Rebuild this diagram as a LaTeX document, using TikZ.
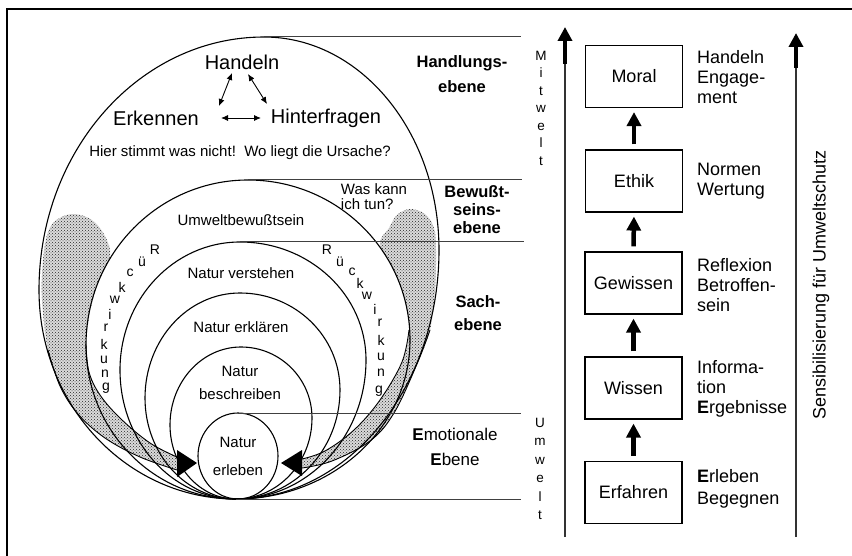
\documentclass[tikz,border=0pt]{standalone}
\usepackage{fontspec}
\setmainfont{Liberation Sans}
\usetikzlibrary{arrows.meta,patterns,shapes.geometric}
% egg-shaped closed curve through bottom point (236,499): top (#2,#3), left (#4,#5), right (#6,#7)
\newcommand{\eggdraw}[7][]{%
\draw[#1] (236,499) .. controls ({236-0.5523*(236-#4)},499) and (#4,{#5+0.5523*(499-#5)}) .. (#4,#5)
 .. controls (#4,{#5-0.5523*(#5-#3)}) and ({#2-0.5523*(#2-#4)},#3) .. (#2,#3)
 .. controls ({#2+0.5523*(#6-#2)},#3) and (#6,{#7-0.5523*(#7-#3)}) .. (#6,#7)
 .. controls (#6,{#7+0.5523*(499-#7)}) and ({236+0.5523*(#6-236)},499) .. (236,499);}
\begin{document}
\begin{tikzpicture}[x=1pt,y=-1pt,
  curve/.style={line width=1.1pt},
  hline/.style={line width=1pt,black!75},
  band/.style={preaction={fill=black!14},pattern=crosshatch dots,pattern color=black!85},
  bandedge/.style={line width=0.9pt},
  big/.style={font=\fontsize{20}{24}\selectfont,inner sep=0pt},
  mid/.style={font=\fontsize{15}{18}\selectfont,inner sep=0pt,align=center},
  level/.style={font=\bfseries\fontsize{16.5}{24}\selectfont,inner sep=0pt,align=center},
  rk/.style={font=\fontsize{14}{14}\selectfont,inner sep=0pt},
  vert/.style={font=\fontsize{13.5}{17.5}\selectfont,inner sep=0pt,align=center},
  box/.style={draw,line width=1.1pt,minimum width=97pt,minimum height=62pt,inner sep=0pt,font=\fontsize{18}{20}\selectfont},
  side/.style={anchor=west,align=left,inner sep=0pt,font=\fontsize{18}{20}\selectfont},
  bigarrow/.style={line width=4.5pt,-{Triangle[length=14pt,width=14pt]}},
  thinshaft/.style={line width=1.5pt,black!80},
  dbl/.style={line width=0.9pt,{Latex[length=7pt,width=6pt]}-{Latex[length=7pt,width=6pt]}}]
\useasboundingbox (0,0) rectangle (852,556);
% frame
\draw[line width=2pt] (7,556) -- (7,9) -- (852,9);

% stippled Rueckwirkung bands
\fill[band] plot[smooth,tension=0.6] coordinates {(177,470) (140,457) (105,438) (78,414) (60,386) (48,350) (42,300) (43,260) (48,232) (58,219) (74,214) (92,220) (105,236) (110,256) (98,282) (90,312) (86,345) (89,372) (100,395) (121,419) (150,443) (177,457)} -- cycle;
\fill[band] plot[smooth,tension=0.6] coordinates {(302,468) (332,461) (370,441) (394,413) (417,364) (430,330) (435,290) (436,250) (434,228) (425,214) (410,209) (397,215) (389,228) (380,244) (394,270) (405,300) (409,330) (402,362) (380,400) (354,430) (325,451) (302,459)} -- cycle;
\draw[bandedge] plot[smooth,tension=0.6] coordinates {(177,470) (140,457) (105,438) (78,414) (60,386) (48,350)};
\draw[bandedge] plot[smooth,tension=0.6] coordinates {(86,345) (89,372) (100,395) (121,419) (150,443) (177,457)};
\draw[bandedge] plot[smooth,tension=0.6] coordinates {(302,468) (332,461) (370,441) (394,413) (417,364) (430,330)};
\draw[bandedge] plot[smooth,tension=0.6] coordinates {(409,330) (402,362) (380,400) (354,430) (325,451) (302,459)};

% nested curves
\eggdraw[curve]{264}{37}{39}{290}{439}{250}
\eggdraw[curve]{248}{180}{86}{345}{410}{340}
\eggdraw[curve]{240}{242}{120}{370}{366}{360}
\eggdraw[curve]{240}{293}{145}{398}{340}{390}
\eggdraw[curve]{241}{347}{170}{425}{312}{418}
\node[ellipse,draw,line width=1.1pt,minimum width=80pt,minimum height=86pt,inner sep=0pt,
  font=\fontsize{15}{28}\selectfont,align=center] (erleben) at (238,456) {Natur\\erleben};

% arrowheads of the bands
\fill (197,463) -- (177,450) -- (177,477) -- cycle;
\fill (281,463) -- (302,450) -- (302,476) -- cycle;

% level lines
\draw[hline] (264,37) -- (521,37);
\draw[hline] (248,180) -- (522,180);
\draw[hline] (240,242) -- (524,242);
\draw[hline] (238,413) -- (521,413);
\draw[hline] (236,499) -- (521,499);

% texts in the circles
\node[big] (handeln) at (242,62) {Handeln};
\node[big] (erkennen) at (156,118) {Erkennen};
\node[big] (hinter) at (326,118) {Hinterfragen};
\coordinate (a1) at (232,73); \coordinate (a2) at (219,106);
\coordinate (b1) at (248,74); \coordinate (b2) at (267,104);
\coordinate (c1) at (221,118); \coordinate (c2) at (261,118);
\draw[dbl] (a1) -- (a2);
\draw[dbl] (b1) -- (b2);
\draw[dbl] (c1) -- (c2);
\node[mid] (hier) at (240,153) {Hier stimmt was nicht!\ \ Wo liegt die Ursache?};
\node[mid,align=left,font=\fontsize{15}{15}\selectfont] (waskann) at (374,197) {Was kann\\ich tun?};
\node[mid] (umweltb) at (241,220) {Umweltbewußtsein};
\node[mid] (verstehen) at (241,273) {Natur verstehen};
\node[mid] (erklaeren) at (241,327) {Natur erklären};
\node[mid,font=\fontsize{15}{23}\selectfont] (beschreiben) at (240,383) {Natur\\beschreiben};

% Rueckwirkung letters
\foreach \ch/\x/\y [count=\i] in {R/155/250,ü/142/262,c/130/273,k/122/287,w/115/300,i/110/314,r/106/328,k/104/344,u/104/360,n/105/374,g/106/388}
  \node[rk] (rl\i) at (\x,\y) {\ch};
\foreach \ch/\x/\y [count=\i] in {R/327/250,ü/340/262,c/352/272,k/360/283,w/367/296,i/375/309,r/380/323,k/381/340,u/381/357,n/381/373,g/379/391}
  \node[rk] (rr\i) at (\x,\y) {\ch};

% level labels
\node[level,font=\bfseries\fontsize{16.5}{25}\selectfont] (handlungs) at (462,74) {Handlungs-\\ebene};
\node[level,font=\bfseries\fontsize{16.5}{18}\selectfont] (bewusst) at (477,210) {Bewußt-\\seins-\\ebene};
\node[level,font=\bfseries\fontsize{16.5}{23}\selectfont] (sach) at (478,313) {Sach-\\ebene};
\node[level,font=\fontsize{17}{25}\selectfont] (emo) at (455,447) {\textbf{E}motionale\\\textbf{E}bene};

% Mitwelt / Umwelt
\node[vert] (mitwelt) at (541,108) {M\\i\\t\\w\\e\\l\\t};
\node[vert,font=\fontsize{13.5}{18.4}\selectfont] (umwelt) at (540,469) {U\\m\\w\\e\\l\\t};
\coordinate (mwb) at (565,537); \coordinate (mwm) at (565,64); \coordinate (mwt) at (565,27);
\draw[thinshaft] (mwb) -- (mwm);
\draw[bigarrow] (mwm) -- (mwt);
\coordinate (sb) at (796,537); \coordinate (sm) at (796,68); \coordinate (st) at (796,33);
\draw[thinshaft] (sb) -- (sm);
\draw[bigarrow] (sm) -- (st);
\node[rotate=90,font=\fontsize{18}{20}\selectfont,inner sep=0pt] (sens) at (821,285) {Sensibilisierung für Umweltschutz};

% boxes
\node[box] (moral) at (634,76.5) {Moral};
\node[box] (ethik) at (634,181) {Ethik};
\node[box] (gewissen) at (633.5,283) {Gewissen};
\node[box] (wissen) at (633.5,388) {Wissen};
\node[box] (erfahren) at (633.5,492.5) {Erfahren};
\draw[bigarrow,shorten <=5pt,shorten >=4pt] (ethik.north) -- (moral.south);
\draw[bigarrow,shorten <=5pt,shorten >=4pt] (gewissen.north) -- (ethik.south);
\draw[bigarrow,shorten <=5pt,shorten >=4pt] (wissen.north) -- (gewissen.south);
\draw[bigarrow,shorten <=5pt,shorten >=4pt] (erfahren.north) -- (wissen.south);
\node[side] (tmoral) at (697,77.5) {Handeln\\Engage-\\ment};
\node[side] (tethik) at (697,181) {Normen\\Wertung};
\node[side] (tgew) at (697,285) {Reflexion\\Betroffen-\\sein};
\node[side] (twis) at (697,389) {Informa-\\tion\\\textbf{E}rgebnisse};
\node[side,font=\fontsize{18}{22}\selectfont] (terf) at (697,489) {\textbf{E}rleben\\Begegnen};
\end{tikzpicture}
\end{document}
